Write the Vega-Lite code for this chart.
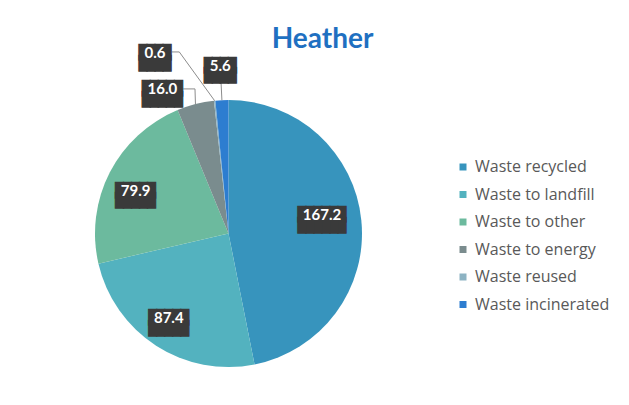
{
  "$schema": "https://vega.github.io/schema/vega-lite/v6.json",
  "width": 267,
  "height": 267,
  "autosize": {"type": "none"},
  "padding": {"left": 95, "top": 100, "right": 267, "bottom": 38},
  "background": "white",
  "config": {"view": {"stroke": null}},
  "title": {"text": "Heather", "font": "Lato", "fontSize": 28, "fontWeight": "bold", "color": "#1f70c1", "anchor": "middle", "dx": 94, "offset": -30, "baseline": "alphabetic"},
  "data": {"values": [
    {"category": "Waste recycled", "value": 167.2, "order": 1},
    {"category": "Waste to landfill", "value": 87.4, "order": 2},
    {"category": "Waste to other", "value": 79.9, "order": 3},
    {"category": "Waste to energy", "value": 16.0, "order": 4},
    {"category": "Waste reused", "value": 0.6, "order": 5},
    {"category": "Waste incinerated", "value": 5.6, "order": 6}
  ]},
  "transform": [
    {"joinaggregate": [{"op": "sum", "field": "value", "as": "total"}]},
    {"window": [{"op": "sum", "field": "value", "as": "cum"}], "sort": [{"field": "order"}], "frame": [null, 0]},
    {"calculate": "2*PI*(datum.cum - datum.value/2)/datum.total", "as": "mid"},
    {"calculate": "pad('', length(format(datum.value, '.1f')) + 1, '█') + '\\n' + pad('', length(format(datum.value, '.1f')) + 1, '█')", "as": "box"}
  ],
  "layer": [
    {
      "mark": {"type": "arc"},
      "encoding": {
        "theta": {"field": "value", "type": "quantitative", "stack": true},
        "order": {"field": "order", "type": "quantitative"},
        "color": {
          "field": "category", "type": "nominal",
          "scale": {
            "domain": ["Waste recycled", "Waste to landfill", "Waste to other", "Waste to energy", "Waste reused", "Waste incinerated"],
            "range": ["#3794bd", "#53b2bf", "#6cba9e", "#7a8c8e", "#8db3c3", "#2d7dd0"]
          },
          "legend": {
            "title": null, "orient": "none", "legendX": 360, "legendY": 59,
            "symbolType": "square", "symbolSize": 49, "symbolStrokeWidth": 0,
            "labelFont": "Open Sans", "labelFontSize": 16, "labelColor": "#595959",
            "labelOffset": 4, "rowPadding": 11.5, "padding": 0
          }
        }
      }
    },
    {
      "transform": [
        {"filter": "datum.value < 20"},
        {"calculate": "sin(datum.mid)", "as": "ex"},
        {"calculate": "cos(datum.mid)", "as": "ey"},
        {"calculate": "datum.category == 'Waste reused' ? -0.3685 : datum.category == 'Waste to energy' ? -0.251 : 1.16*sin(datum.mid)", "as": "bx"},
        {"calculate": "datum.category == 'Waste reused' ? 1.36 : datum.category == 'Waste to energy' ? 1.083 : 1.16*cos(datum.mid)", "as": "by"},
        {"calculate": "datum.category == 'Waste reused' ? -0.4255 : datum.category == 'Waste to energy' ? -0.339 : datum.bx", "as": "cx"}
      ],
      "layer": [
        {
          "mark": {"type": "rule", "color": "#8c8c8c", "strokeWidth": 1},
          "encoding": {
            "x": {"field": "ex", "type": "quantitative", "scale": {"domain": [-1, 1], "nice": false, "zero": false}, "axis": null},
            "y": {"field": "ey", "type": "quantitative", "scale": {"domain": [-1, 1], "nice": false, "zero": false}, "axis": null},
            "x2": {"field": "bx"},
            "y2": {"field": "by"}
          }
        },
        {
          "mark": {"type": "rule", "color": "#8c8c8c", "strokeWidth": 1},
          "encoding": {
            "x": {"field": "bx", "type": "quantitative"},
            "y": {"field": "by", "type": "quantitative"},
            "x2": {"field": "cx"},
            "y2": {"field": "by"}
          }
        }
      ]
    },
    {
      "transform": [{"filter": "datum.category == 'Waste recycled'"}],
      "layer": [
        {"mark": {"type": "text", "radius": 100, "dx": -6, "dy": -8.5, "font": "DejaVu Sans Mono", "fontSize": 13.3, "lineBreak": "\n", "lineHeight": 10.5, "color": "#3a3a3a", "stroke": "#3a3a3a", "strokeWidth": 1.2, "align": "center", "baseline": "middle"},
         "encoding": {"theta": {"field": "mid", "type": "quantitative", "scale": null}, "text": {"field": "box", "type": "nominal"}}},
        {"mark": {"type": "text", "radius": 100, "dx": -6, "dy": -8.5, "font": "Lato", "fontSize": 15, "fontWeight": "bold", "color": "white", "align": "center", "baseline": "middle"},
         "encoding": {"theta": {"field": "mid", "type": "quantitative", "scale": null}, "text": {"field": "value", "type": "quantitative", "format": ".1f"}}}
      ]
    },
    {
      "transform": [{"filter": "datum.category == 'Waste to landfill'"}],
      "layer": [
        {"mark": {"type": "text", "radius": 100, "dx": -5.5, "dy": 0.5, "font": "DejaVu Sans Mono", "fontSize": 13.3, "lineBreak": "\n", "lineHeight": 10.5, "color": "#3a3a3a", "stroke": "#3a3a3a", "strokeWidth": 1.2, "align": "center", "baseline": "middle"},
         "encoding": {"theta": {"field": "mid", "type": "quantitative", "scale": null}, "text": {"field": "box", "type": "nominal"}}},
        {"mark": {"type": "text", "radius": 100, "dx": -5.5, "dy": 0.5, "font": "Lato", "fontSize": 15, "fontWeight": "bold", "color": "white", "align": "center", "baseline": "middle"},
         "encoding": {"theta": {"field": "mid", "type": "quantitative", "scale": null}, "text": {"field": "value", "type": "quantitative", "format": ".1f"}}}
      ]
    },
    {
      "transform": [{"filter": "datum.category == 'Waste to other'"}],
      "layer": [
        {"mark": {"type": "text", "radius": 100, "dx": -4, "dy": 3, "font": "DejaVu Sans Mono", "fontSize": 13.3, "lineBreak": "\n", "lineHeight": 10.5, "color": "#3a3a3a", "stroke": "#3a3a3a", "strokeWidth": 1.2, "align": "center", "baseline": "middle"},
         "encoding": {"theta": {"field": "mid", "type": "quantitative", "scale": null}, "text": {"field": "box", "type": "nominal"}}},
        {"mark": {"type": "text", "radius": 100, "dx": -4, "dy": 3, "font": "Lato", "fontSize": 15, "fontWeight": "bold", "color": "white", "align": "center", "baseline": "middle"},
         "encoding": {"theta": {"field": "mid", "type": "quantitative", "scale": null}, "text": {"field": "value", "type": "quantitative", "format": ".1f"}}}
      ]
    },
    {
      "transform": [{"filter": "datum.category == 'Waste incinerated'"}],
      "layer": [
        {"mark": {"type": "text", "radius": 168, "font": "DejaVu Sans Mono", "fontSize": 13.3, "lineBreak": "\n", "lineHeight": 10.5, "color": "#3a3a3a", "stroke": "#3a3a3a", "strokeWidth": 1.2, "align": "center", "baseline": "middle"},
         "encoding": {"theta": {"field": "mid", "type": "quantitative", "scale": null}, "text": {"field": "box", "type": "nominal"}}},
        {"mark": {"type": "text", "radius": 168, "font": "Lato", "fontSize": 15, "fontWeight": "bold", "color": "white", "align": "center", "baseline": "middle"},
         "encoding": {"theta": {"field": "mid", "type": "quantitative", "scale": null}, "text": {"field": "value", "type": "quantitative", "format": ".1f"}}}
      ]
    },
    {
      "transform": [{"filter": "datum.category == 'Waste to energy'"}],
      "layer": [
        {"mark": {"type": "text", "radius": 150, "dx": -29, "dy": 1, "font": "DejaVu Sans Mono", "fontSize": 13.3, "lineBreak": "\n", "lineHeight": 10.5, "color": "#3a3a3a", "stroke": "#3a3a3a", "strokeWidth": 1.2, "align": "center", "baseline": "middle"},
         "encoding": {"theta": {"field": "mid", "type": "quantitative", "scale": null}, "text": {"field": "box", "type": "nominal"}}},
        {"mark": {"type": "text", "radius": 150, "dx": -29, "dy": 1, "font": "Lato", "fontSize": 15, "fontWeight": "bold", "color": "white", "align": "center", "baseline": "middle"},
         "encoding": {"theta": {"field": "mid", "type": "quantitative", "scale": null}, "text": {"field": "value", "type": "quantitative", "format": ".1f"}}}
      ]
    },
    {
      "transform": [{"filter": "datum.category == 'Waste reused'"}],
      "layer": [
        {"mark": {"type": "text", "radius": 168, "dx": -56, "dy": -13, "font": "DejaVu Sans Mono", "fontSize": 13.3, "lineBreak": "\n", "lineHeight": 10.5, "color": "#3a3a3a", "stroke": "#3a3a3a", "strokeWidth": 1.2, "align": "center", "baseline": "middle"},
         "encoding": {"theta": {"field": "mid", "type": "quantitative", "scale": null}, "text": {"field": "box", "type": "nominal"}}},
        {"mark": {"type": "text", "radius": 168, "dx": -56, "dy": -13, "font": "Lato", "fontSize": 15, "fontWeight": "bold", "color": "white", "align": "center", "baseline": "middle"},
         "encoding": {"theta": {"field": "mid", "type": "quantitative", "scale": null}, "text": {"field": "value", "type": "quantitative", "format": ".1f"}}}
      ]
    }
  ]
}
